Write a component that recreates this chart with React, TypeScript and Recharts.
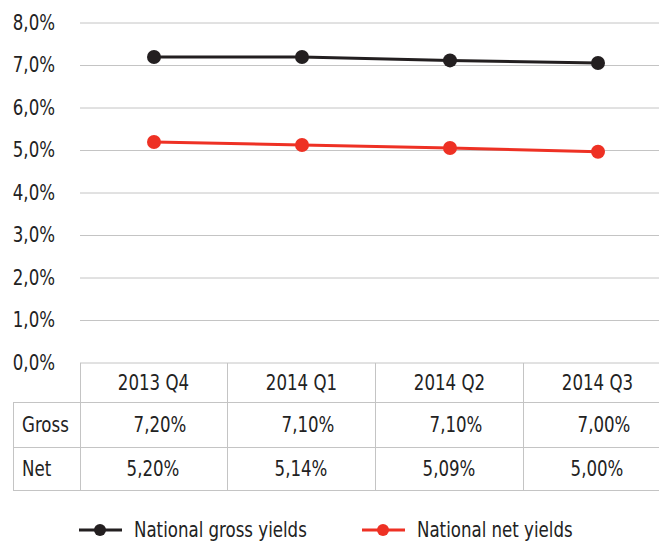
// Yield chart: gross vs net national yields per quarter, with a data table under the plot.
import React from 'react';
import { LineChart, Line, XAxis, YAxis, CartesianGrid } from 'recharts';

const categories = ['2013 Q4', '2014 Q1', '2014 Q2', '2014 Q3'];
const grossYields = [7.2, 7.2, 7.12, 7.06];
const netYields = [5.2, 5.13, 5.06, 4.97];
const grossLabels = ['7,20%', '7,10%', '7,10%', '7,00%'];
const netLabels = ['5,20%', '5,14%', '5,09%', '5,00%'];
const yTicks = [0, 1, 2, 3, 4, 5, 6, 7, 8];

const BLACK = '#231f20';
const RED = '#ee3124';
const GRID = '#c4c4c4';
const TEXT = '#222';
const FONT = '"DejaVu Sans Condensed", "Liberation Sans Narrow", Roboto, sans-serif';
const SQUEEZE = 0.88; // reference font is a narrow condensed face

const data = categories.map((c, i) => ({ name: c, gross: grossYields[i], net: netYields[i] }));

const fmtPct = (v: number) => v.toFixed(1).replace('.', ',') + '%';

// plot box geometry (table columns line up with the x bands)
const PLOT_LEFT = 80;
const COL_W = 148;
const PLOT_TOP = 23;
const PLOT_H = 340;

const cell: React.CSSProperties = {
  position: 'absolute', display: 'flex', alignItems: 'center', justifyContent: 'center',
  fontSize: 21, color: TEXT, boxSizing: 'border-box'
};

const Narrow = ({ children, origin = 'center' }: { children: React.ReactNode; origin?: string }) => (
  <span style={{ display: 'inline-block', whiteSpace: 'nowrap', transform: `scaleX(${SQUEEZE})`, transformOrigin: origin }}>{children}</span>
);

const YTick = (props: any) => {
  const { x, y, payload } = props;
  return (
    <text x={x} y={y} textAnchor="end" dominantBaseline="central" fontSize={21} fill={TEXT} fontFamily={FONT}
      transform={`translate(${x},0) scale(${SQUEEZE},1) translate(${-x},0)`}>
      {fmtPct(payload.value)}
    </text>
  );
};

export default function App() {
  const rows = [
    { label: 'Gross', values: grossLabels, top: 402, h: 45, pad: 14 },
    { label: 'Net', values: netLabels, top: 447, h: 43, pad: 0 },
  ];
  return (
    <div style={{ position: 'absolute', left: 0, top: 0, width: 659, height: 541, overflow: 'hidden', background: '#fff', fontFamily: FONT }}>
      <LineChart width={PLOT_LEFT + COL_W * 4} height={541} data={data}
        margin={{ top: PLOT_TOP, right: 0, left: 0, bottom: 541 - PLOT_TOP - PLOT_H }}>
        <CartesianGrid vertical={false} stroke={GRID} />
        <XAxis dataKey="name" hide padding={{ left: COL_W / 2, right: COL_W / 2 }} />
        <YAxis width={PLOT_LEFT} domain={[0, 8]} ticks={yTicks} axisLine={false} tickLine={false}
          tickSize={0} tickMargin={25} tick={<YTick />} />
        <Line dataKey="gross" stroke={BLACK} strokeWidth={3} isAnimationActive={false}
          dot={{ r: 7, fill: BLACK, stroke: BLACK, strokeWidth: 0 }} />
        <Line dataKey="net" stroke={RED} strokeWidth={3} isAnimationActive={false}
          dot={{ r: 7, fill: RED, stroke: RED, strokeWidth: 0 }} />
      </LineChart>

      {/* table: header row */}
      <div style={{ position: 'absolute', left: PLOT_LEFT, top: PLOT_TOP + PLOT_H, width: COL_W * 4, height: 490 - PLOT_TOP - PLOT_H,
        borderLeft: `1px solid ${GRID}` }} />
      {categories.map((c, i) => (
        <div key={c} style={{ ...cell, left: PLOT_LEFT + i * COL_W, top: PLOT_TOP + PLOT_H, width: COL_W, height: 402 - PLOT_TOP - PLOT_H,
          borderRight: `1px solid ${GRID}` }}><Narrow>{c}</Narrow></div>
      ))}
      {rows.map(r => (
        <React.Fragment key={r.label}>
          <div style={{ ...cell, justifyContent: 'flex-start', paddingLeft: 8, left: 13, top: r.top, width: PLOT_LEFT - 13, height: r.h,
            borderLeft: `1px solid ${GRID}`, borderTop: `1px solid ${GRID}` }}><Narrow origin="left">{r.label}</Narrow></div>
          {r.values.map((v, i) => (
            <div key={i} style={{ ...cell, left: PLOT_LEFT + i * COL_W, top: r.top, width: COL_W, height: r.h, paddingLeft: r.pad,
              borderTop: `1px solid ${GRID}`, borderRight: `1px solid ${GRID}` }}><Narrow>{v}</Narrow></div>
          ))}
        </React.Fragment>
      ))}
      <div style={{ position: 'absolute', left: 13, top: 490, width: PLOT_LEFT + COL_W * 4 - 13, borderTop: `1px solid ${GRID}` }} />

      {/* legend */}
      {[{ name: 'National gross yields', color: BLACK, left: 79 }, { name: 'National net yields', color: RED, left: 362 }].map(s => (
        <div key={s.name} style={{ position: 'absolute', left: s.left, top: 516, height: 28, display: 'flex', alignItems: 'center', fontSize: 21, color: TEXT }}>
          <svg width={43} height={14} style={{ marginRight: 12 }}>
            <line x1={0} y1={7} x2={43} y2={7} stroke={s.color} strokeWidth={3} />
            <circle cx={21} cy={7} r={6} fill={s.color} />
          </svg>
          <Narrow origin="left">{s.name}</Narrow>
        </div>
      ))}
    </div>
  );
}
